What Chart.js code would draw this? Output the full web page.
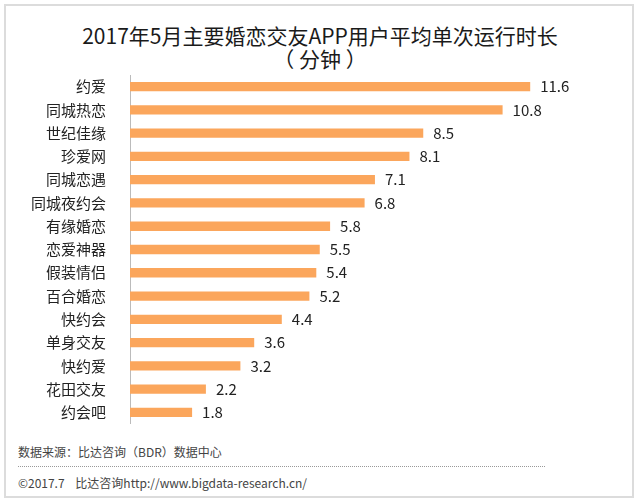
<!DOCTYPE html>
<html>
<head>
<meta charset="utf-8">
<script src="https://cdn.jsdelivr.net/npm/chart.js@4"></script>
<style>
	html, body { margin: 0; padding: 0; background: #fff; }
	body { width: 640px; height: 501px; position: relative; overflow: hidden;
		font-family: "Noto Sans CJK SC", "Noto Sans", sans-serif; }
	#frame { position: absolute; left: 4px; top: 4px; width: 626px; height: 490px;
		border: 2px solid #dcdcdc; }
	#title { position: absolute; left: 0; top: 24px; width: 640px; text-align: center;
		font-size: 21px; line-height: 23px; color: #1a1a1a; }
	#barChart { position: absolute; left: 0; top: 75px; }
	#source { position: absolute; left: 18px; top: 443px; font-size: 12px; color: #444; }
	#dots { position: absolute; left: 18px; top: 466px; width: 527px; border-top: 1px dotted #999; }
	#copy { position: absolute; left: 18px; top: 474px; font-size: 12px; color: #444; }
</style>
</head>
<body>
<div id="frame"></div>
<div id="title">2017年5月主要婚恋交友APP用户平均单次运行时长<br>（ 分钟 ）</div>
<canvas id="barChart" width="640" height="349"></canvas>
<div id="source">数据来源：比达咨询（BDR）数据中心</div>
<div id="dots"></div>
<div id="copy">©2017.7&nbsp;&nbsp;&nbsp;&nbsp;比达咨询http://www.bigdata-research.cn/</div>

<script>
// app names, top to bottom
const apps = ["约爱", "同城热恋", "世纪佳缘", "珍爱网", "同城恋遇", "同城夜约会", "有缘婚恋",
	"恋爱神器", "假装情侣", "百合婚恋", "快约会", "单身交友", "快约爱", "花田交友", "约会吧"];
// minutes per session
const minutes = [11.6, 10.8, 8.5, 8.1, 7.1, 6.8, 5.8, 5.5, 5.4, 5.2, 4.4, 3.6, 3.2, 2.2, 1.8];

// value labels at the end of each bar
const valueLabels = {
	id: "valueLabels",
	afterDatasetsDraw(chart) {
		const ctx = chart.ctx;
		const meta = chart.getDatasetMeta(0);
		ctx.save();
		ctx.font = '15px "Noto Sans CJK SC", "Noto Sans", sans-serif';
		ctx.fillStyle = "#222";
		ctx.textAlign = "left";
		ctx.textBaseline = "middle";
		meta.data.forEach((bar, i) => {
			ctx.fillText(minutes[i].toFixed(1), bar.x + 10, bar.y);
		});
		ctx.restore();
	},
};

const ctx = document.getElementById("barChart").getContext("2d");
new Chart(ctx, {
	type: "bar",
	data: {
		labels: apps,
		datasets: [
			{
				data: minutes,
				backgroundColor: "#fba65c",
				borderWidth: 0,
				barPercentage: 0.4,
				categoryPercentage: 1,
			},
		],
	},
	options: {
		indexAxis: "y",
		responsive: false,
		animation: false,
		layout: { padding: { left: 0, right: 27, top: 0, bottom: 0 } },
		scales: {
			x: {
				display: false,
				min: 0,
				max: 14,
			},
			y: {
				grid: { display: false },
				border: { display: true, color: "#bbb", width: 1 },
				ticks: {
					color: "#222",
					padding: 16,
					font: { size: 15, family: '"Noto Sans CJK SC", "Noto Sans", sans-serif' },
				},
				afterFit(scale) {
					// fixed axis width, and no extra room above/below the bars
					scale.width = 130;
					scale.paddingTop = 0;
					scale.paddingBottom = 0;
				},
			},
		},
		plugins: {
			legend: { display: false },
			tooltip: { enabled: false },
		},
	},
	plugins: [valueLabels],
});
</script>
</body>
</html>
